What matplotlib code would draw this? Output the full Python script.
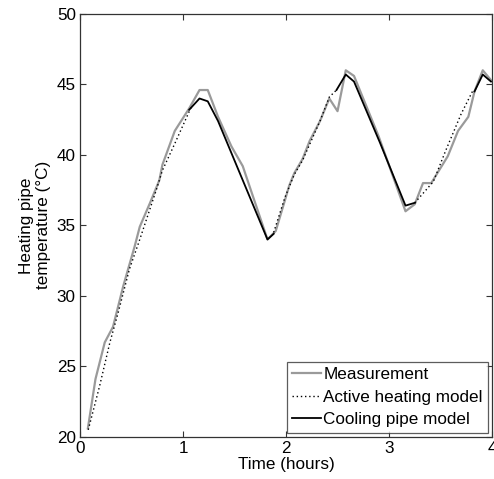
import numpy as np
import matplotlib
matplotlib.use("Agg")
import matplotlib.pyplot as plt

plt.rcParams['font.family'] = ['Liberation Sans', 'DejaVu Sans']

# Measurement (gray)
meas_t = [0.076, 0.15, 0.24, 0.32, 0.42, 0.53, 0.58, 0.68, 0.77, 0.80, 0.92, 1.06, 1.16, 1.24,
          1.34, 1.47, 1.58, 1.70, 1.82, 1.90, 1.99, 2.03, 2.08, 2.16, 2.23, 2.33, 2.42, 2.50,
          2.58, 2.66, 2.90, 3.16, 3.25, 3.33, 3.41, 3.57, 3.67, 3.77, 3.83, 3.91, 3.99]
meas_T = [20.6, 24.1, 26.7, 27.8, 30.7, 33.5, 34.9, 36.6, 38.2, 39.3, 41.7, 43.3, 44.6, 44.6,
          42.7, 40.6, 39.2, 36.6, 34.0, 34.6, 36.8, 37.8, 38.7, 39.7, 41.0, 42.4, 44.0, 43.1,
          46.0, 45.6, 41.3, 36.0, 36.5, 38.0, 38.0, 39.9, 41.7, 42.7, 44.5, 46.0, 45.3]

# Active heating model (dotted), three heating phases
heat1_t = [0.08, 0.19, 0.29, 0.37, 0.48, 0.58, 0.74, 0.80, 0.92, 1.08]
heat1_T = [20.5, 23.6, 26.7, 28.8, 31.9, 34.0, 37.5, 38.9, 40.8, 43.4]
heat2_t = [1.88, 1.99, 2.08, 2.16, 2.33, 2.42, 2.49]
heat2_T = [34.5, 37.0, 38.6, 39.6, 42.4, 44.1, 44.6]
heat3_t = [3.25, 3.43, 3.55, 3.70, 3.81]
heat3_T = [36.6, 38.1, 40.3, 42.9, 44.5]

# Cooling pipe model (black), three cooling phases
cool1_t = [1.06, 1.16, 1.24, 1.34, 1.82, 1.88]
cool1_T = [43.2, 44.0, 43.8, 42.4, 34.0, 34.4]
cool2_t = [2.49, 2.58, 2.66, 2.91, 3.16, 3.25]
cool2_T = [44.6, 45.7, 45.2, 40.9, 36.4, 36.6]
cool3_t = [3.83, 3.91, 3.99]
cool3_T = [44.5, 45.7, 45.2]

x_ticks = [0, 1, 2, 3, 4]
y_ticks = [20, 25, 30, 35, 40, 45, 50]

fig = plt.figure(figsize=(4.94, 4.79), dpi=100)
ax = fig.add_axes([0.162, 0.088, 0.834, 0.883])

ax.plot(meas_t, meas_T, color='#9a9a9a', lw=1.6, label='Measurement')
ax.plot(heat1_t, heat1_T, color='black', lw=1.0, ls=(0, (1, 2)), label='Active heating model')
ax.plot(heat2_t, heat2_T, color='black', lw=1.0, ls=(0, (1, 2)))
ax.plot(heat3_t, heat3_T, color='black', lw=1.0, ls=(0, (1, 2)))
ax.plot(cool1_t, cool1_T, color='black', lw=1.3, label='Cooling pipe model')
ax.plot(cool2_t, cool2_T, color='black', lw=1.3)
ax.plot(cool3_t, cool3_T, color='black', lw=1.3)

ax.set_xlim(0, 4)
ax.set_ylim(20, 50)
ax.set_xticks(x_ticks)
ax.set_yticks(y_ticks)
ax.tick_params(direction='in', top=True, right=True, length=4, labelsize=12.3,
               color='#333333', pad=3)
for s in ax.spines.values():
    s.set_color('#333333')
    s.set_linewidth(0.9)

ax.set_xlabel('Time (hours)', fontsize=12.3, labelpad=1)
ax.set_ylabel('Heating pipe\ntemperature (°C)', fontsize=12.3, labelpad=4)

leg = ax.legend(loc='lower right', fontsize=12.3, frameon=True, fancybox=False,
                edgecolor='#333333', handlelength=1.7, handletextpad=0.1,
                borderpad=0.3, labelspacing=0.45, borderaxespad=0.25)
leg.get_frame().set_linewidth(0.9)

fig.savefig('out.png', dpi=100, facecolor='white')
